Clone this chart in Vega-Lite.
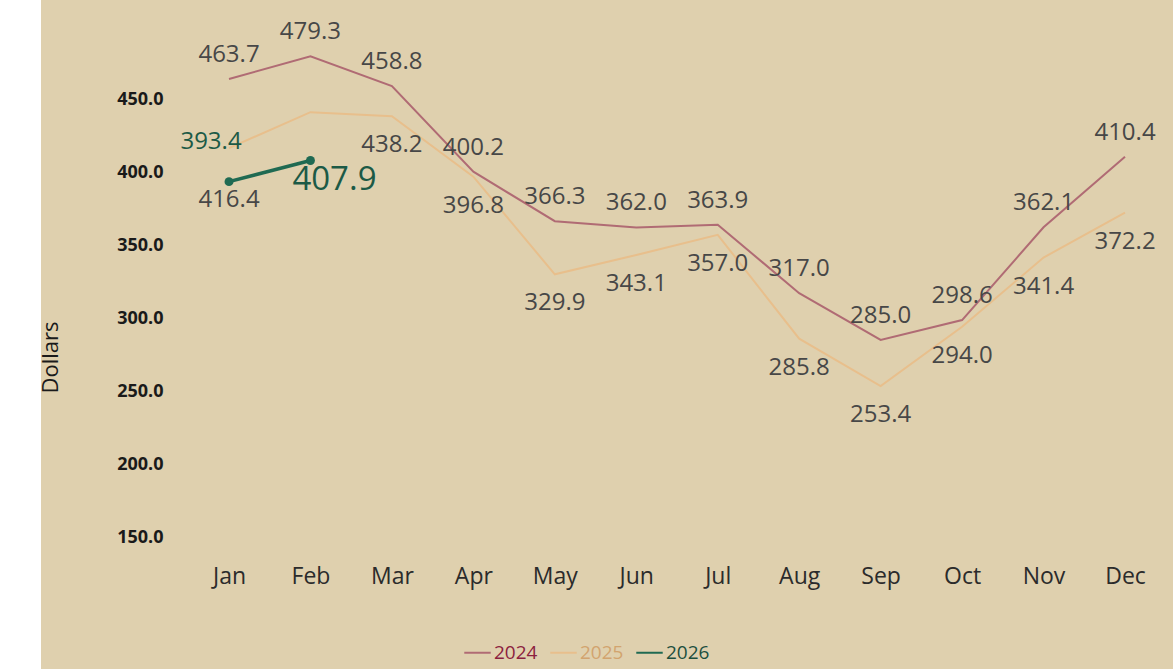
{
  "$schema": "https://vega.github.io/schema/vega-lite/v6.json",
  "autosize": "none",
  "width": 1132,
  "height": 669,
  "padding": {"left": 41, "top": 0, "right": 0, "bottom": 0},
  "background": "#ffffff",
  "config": {
    "view": {"fill": "#dfd0ae", "stroke": null},
    "font": "Open Sans"
  },
  "data": {
    "values": [
      {"month": "Jan", "year": "2024", "value": 463.7},
      {"month": "Feb", "year": "2024", "value": 479.3},
      {"month": "Mar", "year": "2024", "value": 458.8},
      {"month": "Apr", "year": "2024", "value": 400.2},
      {"month": "May", "year": "2024", "value": 366.3},
      {"month": "Jun", "year": "2024", "value": 362.0},
      {"month": "Jul", "year": "2024", "value": 363.9},
      {"month": "Aug", "year": "2024", "value": 317.0},
      {"month": "Sep", "year": "2024", "value": 285.0},
      {"month": "Oct", "year": "2024", "value": 298.6},
      {"month": "Nov", "year": "2024", "value": 362.1},
      {"month": "Dec", "year": "2024", "value": 410.4},
      {"month": "Jan", "year": "2025", "value": 416.4},
      {"month": "Feb", "year": "2025", "value": 441.0},
      {"month": "Mar", "year": "2025", "value": 438.2},
      {"month": "Apr", "year": "2025", "value": 396.8},
      {"month": "May", "year": "2025", "value": 329.9},
      {"month": "Jun", "year": "2025", "value": 343.1},
      {"month": "Jul", "year": "2025", "value": 357.0},
      {"month": "Aug", "year": "2025", "value": 285.8},
      {"month": "Sep", "year": "2025", "value": 253.4},
      {"month": "Oct", "year": "2025", "value": 294.0},
      {"month": "Nov", "year": "2025", "value": 341.4},
      {"month": "Dec", "year": "2025", "value": 372.2},
      {"month": "Jan", "year": "2026", "value": 393.4},
      {"month": "Feb", "year": "2026", "value": 407.9}
    ]
  },
  "encoding": {
    "x": {
      "field": "month", "type": "ordinal", "sort": null,
      "scale": {"type": "point", "range": [188, 1084], "padding": 0},
      "axis": {
        "title": null, "orient": "bottom", "offset": -104, "labelPadding": 0,
        "ticks": false, "domain": false, "grid": false, "labelAngle": 0,
        "labelFontSize": 23, "labelColor": "#2b2b2b"
      }
    },
    "y": {
      "field": "value", "type": "quantitative",
      "scale": {"domain": [150, 450], "range": [537, 99], "nice": false, "zero": false},
      "axis": {
        "title": "Dollars", "orient": "left", "offset": -122, "labelPadding": 0,
        "ticks": false, "domain": false, "grid": false,
        "values": [150, 200, 250, 300, 350, 400, 450], "format": ".1f",
        "labelFontSize": 18, "labelFontWeight": "bold", "labelColor": "#1a1a1a",
        "titleFontSize": 22, "titleFontWeight": "normal", "titleColor": "#1a1a1a",
        "titlePadding": 54, "titleY": 357
      }
    }
  },
  "layer": [
    {
      "mark": {"type": "line", "strokeWidth": 2},
      "transform": [{"filter": "datum.year != '2026'"}],
      "encoding": {
        "color": {
          "field": "year", "type": "nominal",
          "scale": {"domain": ["2024", "2025", "2026"], "range": ["#b06b74", "#e8bf8c", "#1f6a52"]},
          "legend": {
            "orient": "none", "legendX": 422, "legendY": 638, "direction": "horizontal",
            "title": null, "symbolType": "stroke", "symbolSize": 700, "symbolStrokeWidth": 2,
            "labelFontSize": 19, "labelOffset": 2, "columnPadding": 8,
            "encode": {"labels": {"update": {"fill": {"signal": "datum.label == '2024' ? '#8c1f3f' : datum.label == '2025' ? '#d2a46f' : '#1c4f3e'"}}}}
          }
        },
        "strokeWidth": {"condition": {"test": "datum.year == '2025'", "value": 1.5}, "value": 2}
      }
    },
    {
      "mark": {"type": "line", "strokeWidth": 3.5, "color": "#1f6a52", "point": {"size": 80, "filled": true, "color": "#1f6a52"}},
      "transform": [{"filter": "datum.year == '2026'"}],
      "encoding": {}
    },
    {
      "mark": {"type": "text", "fontSize": 24, "dy": -24, "color": "#474747"},
      "transform": [{"filter": "datum.year == '2024'"}],
      "encoding": {"text": {"field": "value", "format": ".1f"}}
    },
    {
      "mark": {"type": "text", "fontSize": 24, "dy": 29, "color": "#474747"},
      "transform": [{"filter": "datum.year == '2025' && datum.month != 'Jan' && datum.month != 'Feb'"}],
      "encoding": {"text": {"field": "value", "format": ".1f"}}
    },
    {
      "mark": {"type": "text", "fontSize": 24, "dy": 52, "color": "#474747"},
      "transform": [{"filter": "datum.year == '2025' && datum.month == 'Jan'"}],
      "encoding": {"text": {"field": "value", "format": ".1f"}}
    },
    {
      "mark": {"type": "text", "fontSize": 24, "dx": -18, "dy": -40, "color": "#1c5a46"},
      "transform": [{"filter": "datum.year == '2026' && datum.month == 'Jan'"}],
      "encoding": {"text": {"field": "value", "format": ".1f"}}
    },
    {
      "mark": {"type": "text", "fontSize": 33, "dx": 24, "dy": 20, "color": "#1c5a46"},
      "transform": [{"filter": "datum.year == '2026' && datum.month == 'Feb'"}],
      "encoding": {"text": {"field": "value", "format": ".1f"}}
    }
  ]
}
